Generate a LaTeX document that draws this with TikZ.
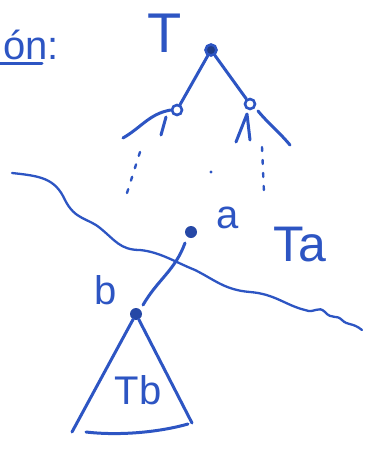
\documentclass[tikz,border=0pt]{standalone}
\usepackage{fontspec}
\setmainfont{Liberation Sans}
\definecolor{ink}{RGB}{45,85,195}
\begin{document}
\begin{tikzpicture}[x=1pt,y=-1pt,
  pen/.style={draw=ink,line width=3pt,line cap=round,line join=round},
  vdot/.style={circle,fill=ink!85!black,inner sep=0pt,minimum size=12pt},
  vring/.style={circle,draw=ink,line width=2.6pt,inner sep=0pt,minimum size=10pt},
  lbl/.style={text=ink,inner sep=0pt,font=\fontsize{#1}{#1}\selectfont},
  dsh/.style={draw=ink,line width=2.4pt,dash pattern=on 4pt off 9pt,line cap=round}]
\useasboundingbox (0,0) rectangle (366,450);
\fill[white] (0,0) rectangle (366,450);
% heading fragment
\node[lbl=40,anchor=south west] (head) at (3,60) {ón:};
\draw[pen] (0,63) -- (42,63);
% tree T
\node[lbl=56] (Tlab) at (165,33) {T};
\node[vring,fill=ink!70!black,minimum size=11pt] (r) at (211,50) {};
\node[vring] (l) at (177,110) {};
\node[vring] (rr) at (250,104) {};
\draw[pen] (r) -- (l);
\draw[pen] (r) -- (rr);
\coordinate (l1) at (123,138);
\coordinate (l2) at (161,135);
\draw[pen] (l.west) to[out=190,in=30] (l1);
\draw[pen] (166,117) -- (l2);
\coordinate (r1) at (236,142);
\coordinate (r2) at (250,140);
\coordinate (r3) at (290,145);
\draw[pen] (r1) -- (247,114) -- (r2);
\draw[pen] (258,111) to[out=-50,in=130] (r3);
\coordinate (d1a) at (140,152); \coordinate (d1b) at (127,193);
\coordinate (d2a) at (262,147); \coordinate (d2b) at (264,193);
\draw[dsh] (d1a) -- (d1b);
\draw[dsh] (d2a) -- (d2b);
\fill[ink] (211,172) circle (1.6pt);
% wavy cut
\draw[draw=ink,line width=2.3pt,line cap=round]
  (12,173) .. controls (40,176) and (55,178) .. (65,200)
  .. controls (75,220) and (88,218) .. (100,228)
  .. controls (115,240) and (120,250) .. (140,250)
  .. controls (160,252) and (175,262) .. (195,270)
  .. controls (215,280) and (225,290) .. (250,292)
  .. controls (275,294) and (285,305) .. (305,310)
  .. controls (315,314) and (318,305) .. (325,312)
  .. controls (332,320) and (336,314) .. (342,320)
  .. controls (348,326) and (352,322) .. (362,330);
% subtree a, b
\node[vdot] (a) at (191,232) {};
\node[lbl=40] (alab) at (228,218) {a};
\node[lbl=50] (Ta) at (300,245) {Ta};
\node[vdot] (b) at (136,314) {};
\node[lbl=40] (blab) at (106,290) {b};
\draw[pen] (185,243) to[out=-110,in=60] (143,305);
\coordinate (t1) at (72,432);
\coordinate (t2) at (192,423);
\draw[pen] (b) -- (t1);
\draw[pen] (b) -- (t2);
\coordinate (bb1) at (86,432);
\coordinate (bb2) at (188,424);
\draw[pen] (bb1) .. controls (120,436) and (160,432) .. (bb2);
\node[lbl=40] (Tb) at (138,390) {Tb};
\end{tikzpicture}
\end{document}
